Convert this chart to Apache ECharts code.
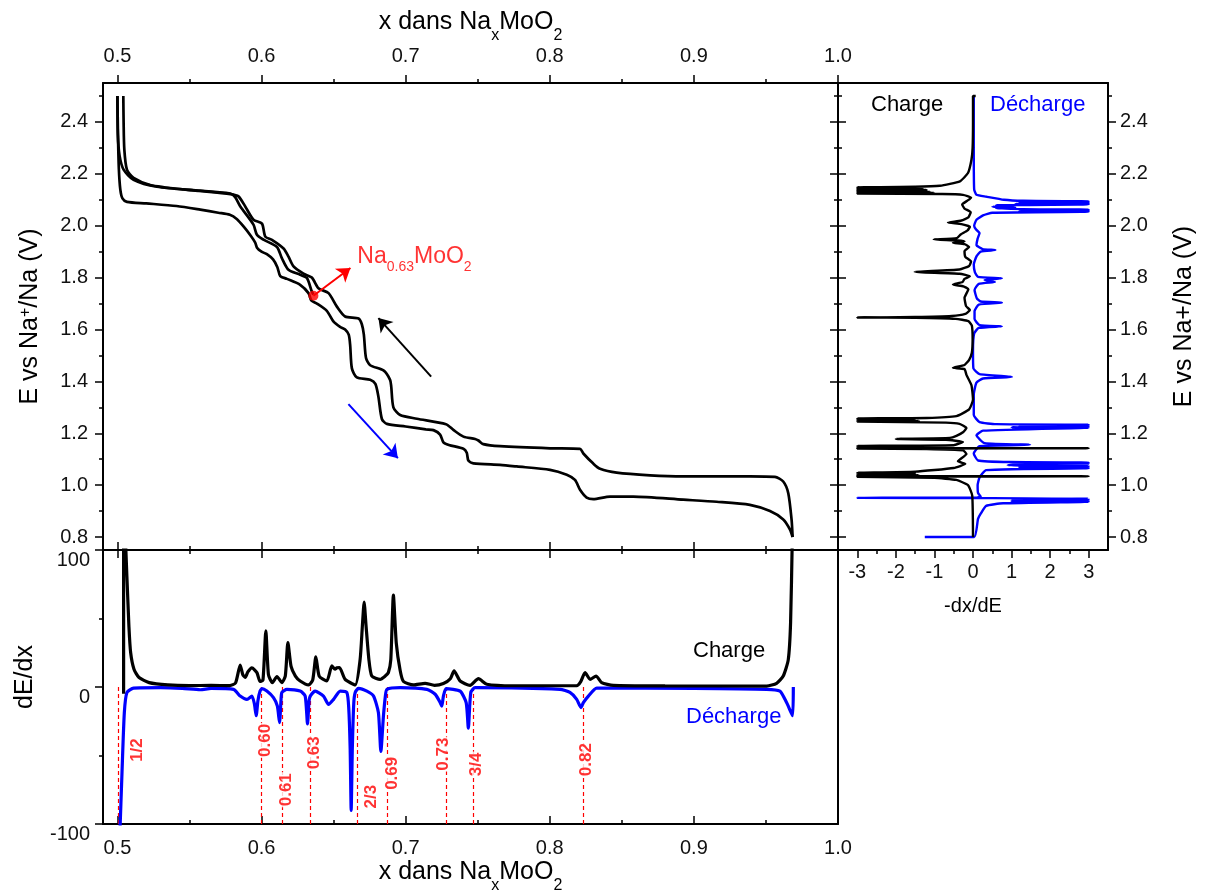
<!DOCTYPE html>
<html><head><meta charset="utf-8">
<script src="https://cdn.jsdelivr.net/npm/echarts@6/dist/echarts.min.js"></script>
<style>html,body{margin:0;padding:0;background:#fff}#c{width:1205px;height:892px}</style>
</head><body><div id="c"></div>
<script>
// ---------- tick values ----------
const xTickValues = [0.5, 0.6, 0.7, 0.8, 0.9, 1.0];
const eTickValues = [0.8, 1.0, 1.2, 1.4, 1.6, 1.8, 2.0, 2.2, 2.4];
const dEdxTickValues = [-100, 0, 100];
const dxdETickValues = [-3, -2, -1, 0, 1, 2, 3];

// ---------- galvanostatic curves [x, E] ----------
const charge1 = [[0.636,1.734],[0.6349,1.746],[0.6315,1.798],[0.6268,1.811],[0.6187,1.830],[0.6141,1.875],[0.6107,1.918],[0.6014,1.946],[0.5968,1.965],[0.5944,2.004],[0.5853,2.074],[0.5817,2.110],[0.5784,2.124],[0.5459,2.140],[0.5228,2.157],[0.5112,2.184],[0.5066,2.216],[0.5048,2.293],[0.5043,2.40],[0.5041,2.50]];
const discharge = [[0.5000,2.50],[0.5004,2.35],[0.5010,2.22],[0.5020,2.14],[0.5035,2.105],[0.5066,2.092],[0.520,2.086],[0.541,2.076],[0.5575,2.062],[0.570,2.050],[0.578,2.042],[0.583,2.025],[0.5875,1.997],[0.592,1.965],[0.5956,1.935],[0.597,1.914],[0.600,1.900],[0.6037,1.890],[0.608,1.870],[0.611,1.840],[0.613,1.806],[0.6176,1.795],[0.6268,1.772],[0.6326,1.740],[0.6345,1.712],[0.6384,1.700],[0.6453,1.672],[0.650,1.630],[0.6545,1.610],[0.658,1.600],[0.6605,1.580],[0.6615,1.540],[0.6627,1.450],[0.6661,1.415],[0.6754,1.406],[0.679,1.390],[0.6811,1.341],[0.6835,1.255],[0.687,1.236],[0.700,1.226],[0.714,1.215],[0.7193,1.212],[0.7239,1.195],[0.7262,1.165],[0.7300,1.155],[0.7401,1.140],[0.7424,1.125],[0.7435,1.095],[0.747,1.084],[0.7655,1.078],[0.7771,1.072],[0.8002,1.059],[0.8118,1.040],[0.8175,1.020],[0.821,0.982],[0.8256,0.952],[0.8302,0.946],[0.8418,0.956],[0.858,0.956],[0.8927,0.944],[0.9158,0.936],[0.9389,0.924],[0.9528,0.900],[0.962,0.868],[0.9666,0.830],[0.9685,0.800]];
const charge2 = [[0.9685,0.800],[0.9678,0.866],[0.9655,0.969],[0.962,1.014],[0.9562,1.032],[0.9389,1.034],[0.8927,1.034],[0.8696,1.038],[0.8464,1.048],[0.8349,1.063],[0.8302,1.083],[0.8233,1.122],[0.8210,1.140],[0.8002,1.142],[0.7655,1.150],[0.7539,1.158],[0.7505,1.172],[0.7482,1.178],[0.7401,1.187],[0.7331,1.213],[0.7280,1.235],[0.7078,1.256],[0.6962,1.270],[0.6915,1.300],[0.6900,1.380],[0.6892,1.406],[0.6846,1.442],[0.6754,1.462],[0.6725,1.490],[0.6710,1.580],[0.6696,1.620],[0.6673,1.642],[0.658,1.650],[0.6523,1.688],[0.6465,1.740],[0.6395,1.759],[0.6349,1.800],[0.6291,1.815],[0.6222,1.843],[0.6187,1.881],[0.6153,1.912],[0.6072,1.945],[0.6026,1.958],[0.6003,2.008],[0.5944,2.023],[0.5887,2.074],[0.584,2.113],[0.5784,2.122],[0.5575,2.134],[0.5274,2.150],[0.5112,2.177],[0.5043,2.216],[0.5015,2.27],[0.5003,2.35],[0.5000,2.50]];

// ---------- dE/dx vs x ----------
const dEdxCharge = [[0.5043,-5],[0.5043,110],[0.5052,110],[0.5066,80],[0.5080,44],[0.5092,25],[0.5115,13],[0.515,6.9],[0.522,3.2],[0.535,1.5],[0.55,1.0],[0.565,1.2],[0.578,1.0],[0.5820,3],[0.5852,16],[0.5870,9],[0.5887,7],[0.5905,11],[0.5933,14],[0.5968,10.5],[0.5990,4],[0.6010,5],[0.6030,41],[0.6048,9],[0.6075,3.2],[0.6107,7.6],[0.6141,3.2],[0.6165,8],[0.6183,32.5],[0.6205,15],[0.6235,8],[0.6268,4.4],[0.6326,1.5],[0.6355,5],[0.6377,22],[0.6400,8],[0.6453,4.4],[0.6488,15.4],[0.6510,13],[0.6523,14],[0.6541,14.2],[0.658,5.6],[0.6650,1.5],[0.6684,20],[0.6700,45],[0.6712,62],[0.6725,45],[0.6745,20],[0.6765,8],[0.6823,5.6],[0.6858,8],[0.6880,10.5],[0.6897,20],[0.6915,67],[0.6935,32],[0.6962,12],[0.6985,4],[0.7054,1.5],[0.7135,2.7],[0.7200,1.2],[0.7262,2.5],[0.7310,6],[0.7336,11.7],[0.7378,4.4],[0.7447,1.2],[0.7505,6.1],[0.7563,2],[0.7748,0.9],[0.8187,1],[0.8215,4],[0.8245,10.5],[0.828,5.6],[0.8321,8],[0.836,3.2],[0.8441,1.2],[0.88,0.8],[0.9505,0.7],[0.9574,2.7],[0.962,8],[0.9655,20],[0.9671,47],[0.9683,110]];
const dEdxDischarge = [[0.5016,-110],[0.5032,-62],[0.5048,-18.7],[0.5066,-4],[0.5112,-0.8],[0.53,-0.5],[0.545,-1],[0.5575,-2],[0.565,-1],[0.5806,-1.7],[0.5852,-6.6],[0.5899,-9],[0.5933,-6.6],[0.5950,-12],[0.5963,-21],[0.5975,-10],[0.5990,-3],[0.6003,-1.2],[0.6037,-3],[0.6083,-7.8],[0.6110,-14],[0.6125,-26],[0.6135,-10],[0.6141,-4],[0.6176,-1.7],[0.6268,-3],[0.6303,-6.6],[0.6319,-27],[0.6330,-10],[0.6338,-6.6],[0.6372,-3],[0.643,-6.6],[0.6465,-12.7],[0.65,-9],[0.6546,-3],[0.6592,-4],[0.6605,-15],[0.6615,-45],[0.6622,-90],[0.6630,-45],[0.6640,-12],[0.665,-4],[0.6673,-1],[0.6731,-3],[0.6777,-6.6],[0.6811,-18.7],[0.6828,-47],[0.6846,-21],[0.6860,-6],[0.687,-1.7],[0.6962,-0.5],[0.7147,-1.7],[0.7205,-5.3],[0.724,-11.4],[0.7251,-14],[0.7262,-6.6],[0.7281,-1.2],[0.7378,-3],[0.742,-11.4],[0.7435,-30],[0.7452,-4],[0.7482,-0.5],[0.8071,-1.7],[0.814,-4],[0.8187,-9],[0.8217,-15],[0.8233,-11.4],[0.8268,-6.6],[0.8326,-0.8],[0.90,-1],[0.9505,-1.7],[0.9597,-3],[0.9632,-9],[0.9655,-14],[0.9685,-21],[0.9690,0]];

// ---------- -dx/dE vs E  [value, E] ----------
const dxdECharge = [[0.07,2.500],[0.0,2.500],[0.0,2.400],[-0.01,2.300],[-0.04,2.254],[-0.13,2.203],[-0.34,2.171],[-0.86,2.154],[-1.5,2.150],[-3.0,2.148],[-1.4,2.146],[-3.0,2.144],[-1.3,2.142],[-3.0,2.140],[-1.2,2.138],[-3.0,2.136],[-1.2,2.134],[-3.0,2.132],[-1.1,2.130],[-3.0,2.128],[-1.0,2.126],[-3.0,2.124],[-0.8,2.122],[-0.26,2.119],[-0.05,2.108],[-0.15,2.096],[-0.28,2.082],[-0.22,2.066],[-0.06,2.052],[-0.12,2.032],[-0.3,2.020],[-0.65,2.012],[-0.3,2.006],[-0.08,1.996],[-0.14,1.982],[-0.32,1.966],[-0.42,1.952],[-1.02,1.947],[-0.4,1.943],[-0.22,1.939],[-0.52,1.934],[-0.22,1.929],[-0.1,1.918],[-0.22,1.902],[-0.2,1.880],[-0.05,1.862],[-0.1,1.845],[-0.35,1.831],[-1.51,1.822],[-0.35,1.815],[-0.08,1.805],[-0.22,1.795],[-0.27,1.783],[-0.52,1.773],[-0.25,1.766],[-0.12,1.755],[-0.22,1.722],[-0.18,1.690],[-0.08,1.675],[-0.2,1.660],[-0.55,1.652],[-1.5,1.648],[-3.0,1.646],[-1.5,1.645],[-0.45,1.641],[-0.12,1.632],[-0.03,1.615],[-0.01,1.560],[-0.03,1.510],[-0.1,1.483],[-0.22,1.463],[-0.52,1.452],[-0.22,1.447],[-0.17,1.425],[-0.04,1.385],[0.0,1.330],[-0.1,1.292],[-0.43,1.266],[-1.2,1.259],[-3.0,1.257],[-1.5,1.255],[-3.0,1.253],[-1.5,1.251],[-3.0,1.249],[-1.4,1.247],[-3.0,1.245],[-0.7,1.241],[-0.35,1.236],[-0.17,1.220],[-0.25,1.205],[-0.43,1.190],[-0.6,1.182],[-2.0,1.178],[-0.7,1.175],[-0.26,1.166],[-0.5,1.154],[-3.0,1.151],[-1.5,1.149],[-3.0,1.147],[-1.5,1.145],[-3.0,1.143],[3.0,1.142],[-3.0,1.141],[-1.2,1.139],[-0.26,1.134],[-0.17,1.120],[-0.39,1.092],[-0.2,1.082],[-0.5,1.066],[-1.5,1.052],[-3.0,1.048],[-1.5,1.046],[-3.0,1.044],[-1.5,1.042],[-3.0,1.040],[-1.4,1.038],[-3.0,1.036],[3.0,1.034],[-3.0,1.032],[-1.0,1.028],[-0.43,1.020],[-0.13,1.000],[-0.02,0.960],[0.0,0.800]];
const dxdEDischarge = [[0.02,2.500],[0.02,2.300],[0.03,2.140],[0.09,2.119],[0.34,2.112],[0.8,2.100],[1.3,2.096],[3.0,2.094],[1.2,2.092],[3.0,2.090],[1.2,2.088],[3.0,2.086],[1.1,2.084],[3.0,2.082],[0.6,2.079],[1.1,2.076],[0.5,2.073],[1.1,2.070],[0.6,2.067],[1.3,2.064],[3.0,2.062],[1.3,2.060],[3.0,2.058],[1.2,2.056],[3.0,2.054],[0.5,2.050],[0.26,2.040],[0.09,2.023],[0.03,2.000],[0.08,1.985],[0.17,1.972],[0.12,1.950],[0.09,1.925],[0.25,1.910],[0.58,1.906],[0.2,1.900],[0.09,1.882],[0.02,1.850],[0.05,1.820],[0.13,1.803],[0.75,1.797],[0.3,1.791],[0.57,1.783],[0.15,1.776],[0.04,1.752],[0.1,1.720],[0.2,1.708],[0.75,1.703],[0.15,1.696],[0.04,1.670],[0.04,1.640],[0.17,1.617],[0.75,1.612],[0.15,1.606],[0.03,1.585],[0.0,1.520],[0.01,1.450],[0.17,1.428],[1.01,1.417],[0.26,1.411],[0.09,1.395],[0.02,1.350],[0.02,1.270],[0.17,1.243],[0.6,1.235],[3.0,1.233],[1.2,1.231],[3.0,1.229],[1.2,1.227],[3.0,1.225],[1.0,1.223],[3.0,1.221],[0.26,1.210],[0.09,1.192],[0.3,1.162],[1.48,1.156],[0.17,1.150],[0.02,1.122],[0.13,1.095],[0.95,1.089],[3.0,1.087],[1.2,1.085],[3.0,1.083],[1.2,1.081],[0.9,1.077],[3.0,1.073],[1.2,1.071],[3.0,1.069],[1.2,1.067],[3.0,1.065],[0.34,1.058],[0.17,1.030],[0.12,1.000],[0.13,0.970],[0.2,0.956],[0.1,0.952],[-3.0,0.951],[0.5,0.950],[3.0,0.948],[1.0,0.946],[3.0,0.944],[1.0,0.942],[3.0,0.940],[1.0,0.938],[3.0,0.936],[0.78,0.930],[0.34,0.920],[0.2,0.890],[0.13,0.870],[0.03,0.800],[-1.25,0.800]];

// ---------- composition markers ----------
const markerX = [0.5004, 0.600, 0.6146, 0.634, 0.6666, 0.687, 0.7281, 0.7468, 0.8231];
const markerText = ['1/2', '0.60', '0.61', '0.63', '2/3', '0.69', '0.73', '3/4', '0.82'];
const markerLabelX = [0.5138, 0.6026, 0.6171, 0.6365, 0.676, 0.6906, 0.7263, 0.7489, 0.8252];
const markerLabelY = [-46, -39, -75, -48, -80, -63, -49, -56.5, -53];

// ---------- annotations (data coordinates) ----------
const pristinePoint = [0.636, 1.730];
const pristineArrowEnd = [0.6617, 1.837];
const pristineLabelAt = [0.6665, 1.880];
const chargeArrow = [[0.7177, 1.418], [0.6811, 1.644]];
const dischargeArrow = [[0.6603, 1.312], [0.6946, 1.104]];

const FONT = 'Arial, "Liberation Sans", Helvetica, sans-serif';
const BLUE = '#0000ff', RED = '#ff0000';
const fmt1 = v => Number(v).toFixed(1);

function mkAxis(o) {
  const tickLine = {color: '#000', width: 1.5};
  return {
    type: 'value', gridIndex: o.grid, position: o.pos, min: o.min, max: o.max,
    splitNumber: o.split, interval: o.interval,
    axisLine: {show: true, onZero: false, lineStyle: {color: '#000', width: 2}},
    axisTick: {show: o.ticks !== false, inside: !!o.inside, length: 8, customValues: o.tickValues, lineStyle: tickLine},
    minorTick: {show: o.ticks !== false, splitNumber: 2, length: 4, lineStyle: tickLine},
    axisLabel: o.labels ? Object.assign({show: true, customValues: o.tickValues, margin: o.margin, fontSize: 20, fontFamily: FONT,
      color: '#111', formatter: o.fmt}, o.labelExtra || {}) : {show: false},
    splitLine: {show: false},
    name: o.name || '', nameLocation: 'middle', nameGap: o.nameGap || 0, nameMoveOverlap: false,
    nameTextStyle: o.nameStyle || {}
  };
}
const subRich = {
  s: {fontSize: 16, lineHeight: 25, verticalAlign: 'top', padding: [18, 0, 0, 0], fontFamily: FONT, color: '#000'},
  p: {fontSize: 16, lineHeight: 25, verticalAlign: 'top', padding: [0, 0, 0, 0], fontFamily: FONT, color: '#000'}
};
const titleStyle = {fontSize: 25, lineHeight: 25, fontFamily: FONT, color: '#000', rich: subRich};

const option = {
  animation: false,
  backgroundColor: '#fff',
  grid: [
    {left: 103, top: 83, width: 735, height: 467, outerBoundsMode: 'none'},
    {left: 103, top: 550, width: 735, height: 274, outerBoundsMode: 'none'},
    {left: 838, top: 83, width: 270, height: 467, outerBoundsMode: 'none'}
  ],
  xAxis: [
    mkAxis({grid: 0, pos: 'bottom', min: 0.49, max: 1.0, tickValues: xTickValues, inside: true}),
    mkAxis({grid: 0, pos: 'top', min: 0.49, max: 1.0, tickValues: xTickValues, labels: true, margin: 17, fmt: fmt1,
      name: 'x dans Na{s|x}MoO{s|2}', nameGap: 48, nameStyle: titleStyle}),
    mkAxis({grid: 1, pos: 'bottom', min: 0.49, max: 1.0, tickValues: xTickValues, inside: true, labels: true, margin: 14, fmt: fmt1,
      name: 'x dans Na{s|x}MoO{s|2}', nameGap: 36, nameStyle: titleStyle}),
    mkAxis({grid: 1, pos: 'top', min: 0.49, max: 1.0, tickValues: xTickValues, inside: true}),
    mkAxis({grid: 2, pos: 'bottom', min: -3.5, max: 3.5, split: 7, tickValues: dxdETickValues, labels: true, margin: 12,
      fmt: v => String(v), name: '-dx/dE', nameGap: 46, nameStyle: {fontSize: 20, fontFamily: FONT, color: '#000'}}),
    mkAxis({grid: 2, pos: 'top', min: -3.5, max: 3.5, split: 7, ticks: false})
  ],
  yAxis: [
    mkAxis({grid: 0, pos: 'left', min: 0.75, max: 2.55, split: 9, tickValues: eTickValues, labels: true, margin: 15, fmt: fmt1,
      name: 'E vs Na{p|+}/Na (V)', nameGap: 60, nameStyle: titleStyle}),
    mkAxis({grid: 0, pos: 'right', min: 0.75, max: 2.55, split: 9, tickValues: eTickValues, inside: true}),
    mkAxis({grid: 1, pos: 'left', min: -100, max: 100, interval: 100, tickValues: dEdxTickValues, labels: true, margin: 13,
      fmt: v => String(v), labelExtra: {verticalAlign: 'top'},
      name: 'dE/dx', nameGap: 65, nameStyle: {fontSize: 25, fontFamily: FONT, color: '#000', padding: [0, 0, 0, 20]}}),
    mkAxis({grid: 1, pos: 'right', min: -100, max: 100, interval: 100, ticks: false}),
    mkAxis({grid: 2, pos: 'right', min: 0.75, max: 2.55, split: 9, tickValues: eTickValues, labels: true, margin: 12, fmt: fmt1,
      name: 'E vs Na+/Na (V)', nameGap: 64, nameStyle: {fontSize: 25, lineHeight: 25, fontFamily: FONT, color: '#000'}}),
    mkAxis({grid: 2, pos: 'left', min: 0.75, max: 2.55, split: 9, tickValues: eTickValues, inside: true})
  ],
  graphic: [
    {type: 'text', x: 693, y: 651, z: 100, style: {text: 'Charge', font: '22px ' + FONT, fill: '#000', align: 'left', verticalAlign: 'middle'}},
    {type: 'text', x: 686, y: 717, z: 100, style: {text: 'Décharge', font: '22px ' + FONT, fill: BLUE, align: 'left', verticalAlign: 'middle'}},
    {type: 'text', x: 871, y: 105, z: 100, style: {text: 'Charge', font: '22px ' + FONT, fill: '#000', align: 'left', verticalAlign: 'middle'}},
    {type: 'text', x: 990, y: 105, z: 100, style: {text: 'Décharge', font: '22px ' + FONT, fill: BLUE, align: 'left', verticalAlign: 'middle'}}
  ],
  series: [
    // main panel curves
    {type: 'line', xAxisIndex: 0, yAxisIndex: 0, data: charge1, showSymbol: false, smooth: 0.25, z: 3,
      lineStyle: {color: '#000', width: 2.7}},
    {type: 'line', xAxisIndex: 0, yAxisIndex: 0, data: discharge, showSymbol: false, smooth: 0.25, z: 3,
      lineStyle: {color: '#000', width: 2.7}},
    {type: 'line', xAxisIndex: 0, yAxisIndex: 0, data: charge2, showSymbol: false, smooth: 0.25, z: 3,
      lineStyle: {color: '#000', width: 2.7}},
    // annotation arrows
    {type: 'lines', coordinateSystem: 'cartesian2d', xAxisIndex: 0, yAxisIndex: 0, z: 5, silent: true,
      symbol: ['none', 'arrow'], symbolSize: 13,
      lineStyle: {width: 2, opacity: 1, curveness: 0},
      data: [
        {coords: [pristinePoint, pristineArrowEnd], lineStyle: {color: RED}},
        {coords: chargeArrow, lineStyle: {color: '#000'}},
        {coords: dischargeArrow, lineStyle: {color: BLUE}}
      ]},
    {type: 'scatter', xAxisIndex: 0, yAxisIndex: 0, data: [pristinePoint], symbolSize: 10, z: 6, silent: true,
      itemStyle: {color: RED}},
    {type: 'scatter', xAxisIndex: 0, yAxisIndex: 0, data: [pristineLabelAt], symbolSize: 0, z: 6, silent: true,
      label: {show: true, position: 'right', distance: 0, formatter: 'Na{s|0.63}MoO{s|2}', color: RED, fontSize: 23,
        lineHeight: 23, fontFamily: FONT,
        rich: {s: {fontSize: 14, lineHeight: 23, verticalAlign: 'top', padding: [15, 0, 0, 0], color: RED, fontFamily: FONT}}}},
    // bottom panel
    {type: 'lines', coordinateSystem: 'cartesian2d', xAxisIndex: 2, yAxisIndex: 2, z: 1, silent: true,
      lineStyle: {color: RED, width: 1.2, type: [4, 3], opacity: 1},
      data: markerX.map(x => ({coords: [[x, 0], [x, -100]]}))},
    {type: 'line', xAxisIndex: 2, yAxisIndex: 2, data: dEdxDischarge, showSymbol: false, smooth: 0.2, z: 3,
      lineStyle: {color: BLUE, width: 3.2}},
    {type: 'line', xAxisIndex: 2, yAxisIndex: 2, data: dEdxCharge, showSymbol: false, smooth: 0.2, z: 3,
      lineStyle: {color: '#000', width: 3.2}},
    {type: 'scatter', xAxisIndex: 2, yAxisIndex: 2, symbolSize: 0, z: 8, silent: true,
      data: markerText.map((t, i) => ({value: [markerLabelX[i], markerLabelY[i]], name: t})),
      label: {show: true, position: 'inside', formatter: '{b}', rotate: 90, color: RED, fontSize: 17, fontWeight: 'bold',
        fontFamily: FONT, backgroundColor: '#fff', padding: [0, 1]}},
    // right panel
    {type: 'line', xAxisIndex: 4, yAxisIndex: 4, data: dxdEDischarge, showSymbol: false, smooth: 0.15, z: 3,
      lineStyle: {color: BLUE, width: 2.4}},
    {type: 'line', xAxisIndex: 4, yAxisIndex: 4, data: dxdECharge, showSymbol: false, smooth: 0.15, z: 4,
      lineStyle: {color: '#000', width: 2.4}}
  ]
};
const chart = echarts.init(document.getElementById('c'), null, {renderer: 'canvas'});
chart.setOption(option);
</script></body></html>
